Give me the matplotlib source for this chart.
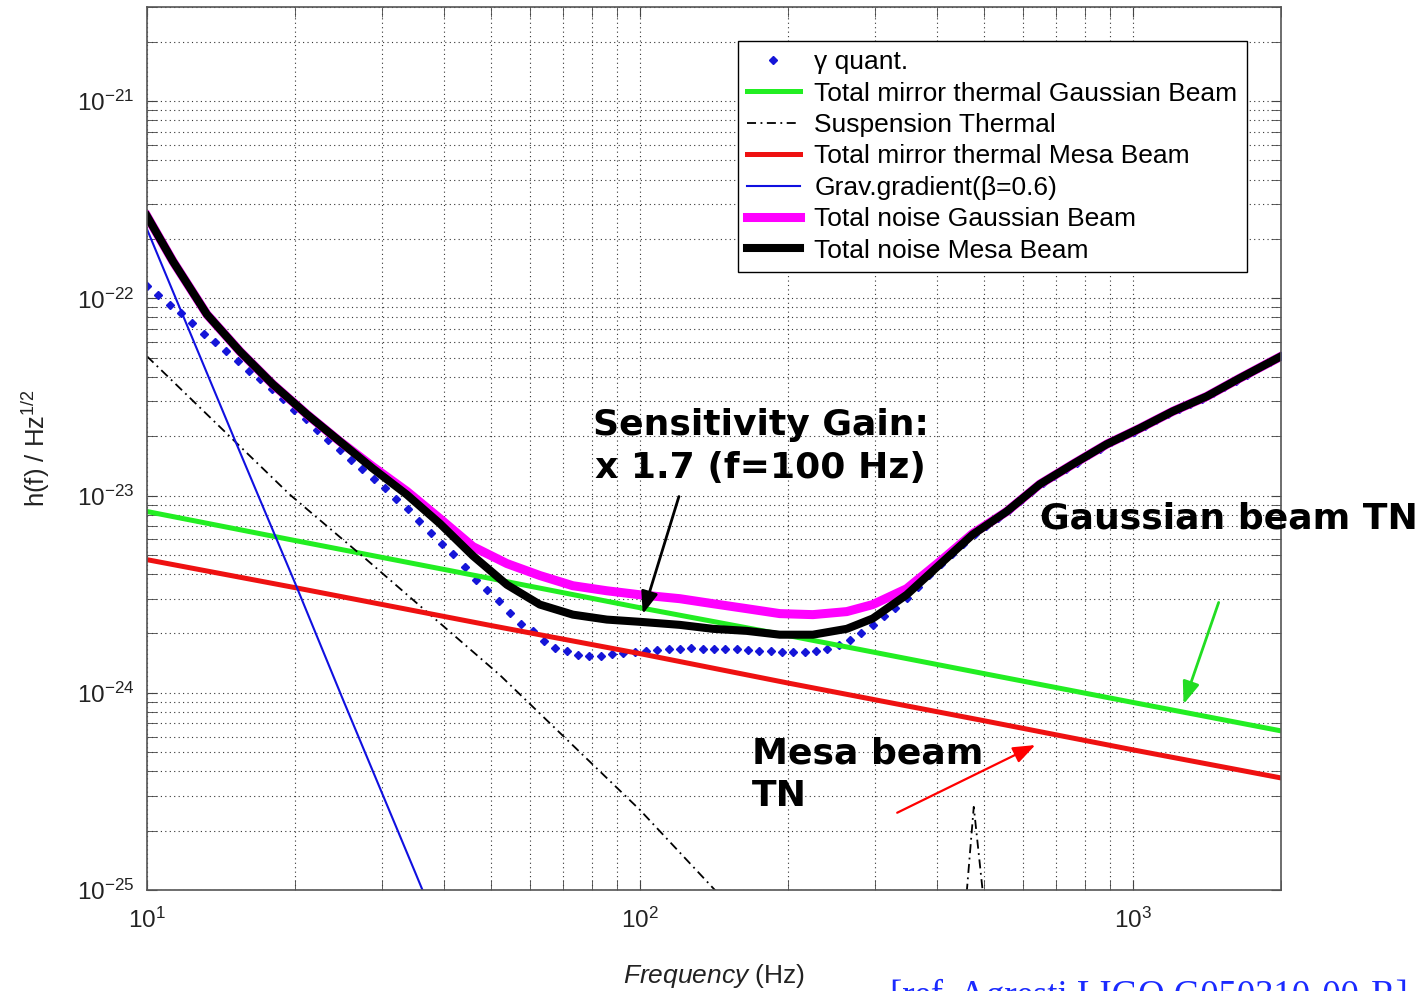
import numpy as np
import matplotlib
matplotlib.use('Agg')
import matplotlib.pyplot as plt
from matplotlib.ticker import NullFormatter

plt.rcParams['font.family'] = ['Liberation Sans', 'DejaVu Sans']
plt.rcParams['mathtext.fontset'] = 'custom'
plt.rcParams['mathtext.rm'] = 'Liberation Sans'
plt.rcParams['mathtext.it'] = 'Liberation Sans:italic'
plt.rcParams['mathtext.bf'] = 'Liberation Sans:bold'
plt.rcParams['axes.unicode_minus'] = False

# ---- data ----
# quantum noise, sampled on the 101-point log grid 10..2000 Hz, units 1e-24
freq_dots = np.geomspace(10, 2000, 101)
quant = np.array([
    116, 104, 93, 84, 75, 66, 60, 54, 48, 43,
    39, 34.5, 30.7, 27.3, 24.3, 21.6, 19.2, 17.1, 15.2, 13.7,
    12.2, 10.9, 9.66, 8.5, 7.46, 6.49, 5.7, 5.08, 4.36, 3.75,
    3.33, 2.93, 2.55, 2.24, 2.06, 1.84, 1.69, 1.63, 1.56, 1.54,
    1.54, 1.58, 1.60, 1.61, 1.63, 1.65, 1.67, 1.67, 1.69, 1.67,
    1.67, 1.67, 1.67, 1.65, 1.63, 1.63, 1.61, 1.61, 1.61, 1.63,
    1.67, 1.75, 1.86, 2.02, 2.21, 2.46, 2.70, 3.04, 3.45, 3.97,
    4.52, 5.08, 5.70, 6.41, 7.04, 7.73, 8.44, 9.43, 10.5, 11.6,
    12.6, 13.6, 14.7, 16.0, 17.2, 18.6, 19.8, 21.1, 22.5, 24.1,
    25.8, 27.5, 29.2, 30.9, 33.1, 35.5, 38.2, 41.0, 44.1, 47.5,
    50.8]) * 1e-24

# mirror thermal noise
freq_tn = [10, 20, 50, 100, 200, 500, 1000, 2000]
tn_gauss = np.array([8.30, 5.91, 3.79, 2.70, 1.95, 1.25, 0.894, 0.641]) * 1e-24
tn_mesa = np.array([4.73, 3.41, 2.19, 1.58, 1.12, 0.721, 0.514, 0.370]) * 1e-24

# suspension thermal (with violin resonance)
freq_susp = [10, 19.5, 27.9, 52, 100, 142, 200, 300, 455, 461, 476, 496, 510, 700, 1000, 2000]
susp = np.array([50.8, 10.1, 4.73, 1.23, 0.255, 0.100, 0.043, 0.016, 0.03, 0.10,
                 0.264, 0.10, 0.03, 0.005, 0.002, 0.0004]) * 1e-24

# gravity gradient
freq_gg = [10, 15, 20, 25, 30, 35, 40]
grav = np.array([224, 19.7, 3.57, 0.92, 0.309, 0.123, 0.055]) * 1e-24

# total noise
freq_tot = [10, 11.29, 13.23, 15.44, 18.01, 21.11, 24.63, 28.73, 33.68, 39.29,
            45.84, 53.74, 62.69, 73.12, 85.73, 100, 120.5, 140.6, 164.8, 192.3,
            224.4, 263.0, 296.9, 347.9, 406.0, 473.6, 555.2, 647.7, 755.6, 885.6,
            1033, 1205, 1413, 1648, 2000]
tot_gauss = np.array([261, 154, 82.9, 53.8, 36.6, 25.8, 18.8, 14.0, 10.5, 7.64,
                      5.51, 4.52, 3.93, 3.49, 3.29, 3.14, 3.00, 2.83, 2.67, 2.52,
                      2.49, 2.58, 2.80, 3.37, 4.62, 6.41, 8.30, 11.4, 14.4, 18.2,
                      21.9, 26.7, 31.8, 39.3, 50.8]) * 1e-24
tot_mesa = np.array([261, 154, 82.9, 53.8, 36.6, 25.8, 18.8, 13.7, 10.1, 7.21,
                     4.95, 3.53, 2.80, 2.49, 2.35, 2.29, 2.21, 2.11, 2.06, 1.97,
                     1.97, 2.11, 2.38, 3.14, 4.47, 6.34, 8.30, 11.4, 14.4, 18.2,
                     21.9, 26.7, 31.8, 39.3, 50.8]) * 1e-24

labels = ['\u03b3 quant.', 'Total mirror thermal Gaussian Beam', 'Suspension Thermal',
          'Total mirror thermal Mesa Beam', 'Grav.gradient(\u03b2=0.6)',
          'Total noise Gaussian Beam', 'Total noise Mesa Beam']

# ---- figure ----
fig = plt.figure(figsize=(14.26, 9.91), dpi=100)
ax = fig.add_axes([147 / 1426, 1 - 890 / 991, 1134 / 1426, 883 / 991])

ax.plot(freq_dots, quant, linestyle='none', marker='D', markersize=3.8,
        color='#1515d8', label=labels[0])
ax.plot(freq_tn, tn_gauss, color='#22ee22', lw=3.6, label=labels[1])
ax.plot(freq_susp, susp, color='k', lw=1.3, linestyle=(0, (5, 2.5, 1, 2.5)),
        label=labels[2])
ax.plot(freq_tn, tn_mesa, color='#ee1111', lw=3.6, label=labels[3])
ax.plot(freq_gg, grav, color='#1010e0', lw=1.5, label=labels[4])
ax.plot(freq_tot, tot_gauss, color='#ff00ff', lw=6.5, label=labels[5],
        solid_joinstyle='round')
ax.plot(freq_tot, tot_mesa, color='k', lw=5.8, label=labels[6],
        solid_joinstyle='round')

ax.set_xscale('log')
ax.set_yscale('log')
ax.set_xlim(10, 2000)
ax.set_ylim(1e-25, 3e-21)
ax.set_xticks([10, 100, 1000])
ax.set_yticks([1e-25, 1e-24, 1e-23, 1e-22, 1e-21])

ax.grid(True, which='both', color='#333333', linestyle=(0, (1, 3)), linewidth=0.8)
ax.tick_params(which='both', direction='in', top=True, right=True, length=7,
               color='#444444', labelcolor='#222222', labelsize=17.5)
ax.tick_params(axis='x', pad=13)
ax.tick_params(axis='y', pad=9)
ax.xaxis.set_minor_formatter(NullFormatter())
ax.yaxis.set_minor_formatter(NullFormatter())
for s in ax.spines.values():
    s.set_color('#555555')
    s.set_linewidth(1.2)

ax.set_xlabel(r'$\it{Frequency}$ (Hz)', fontsize=19, labelpad=21, color='#222222')
ax.set_ylabel(r'h(f) / Hz$^{1/2}$', fontsize=18.5, labelpad=18, color='#222222')

leg = ax.legend(loc='upper left', bbox_to_anchor=(0.521, 0.9615), borderaxespad=0,
                fontsize=19, handlelength=2.0, handletextpad=0.55, labelspacing=0.28,
                borderpad=0.35, fancybox=False, edgecolor='k', framealpha=1, numpoints=1)
leg.get_frame().set_linewidth(1.0)

# annotations
ann_font = dict(family='DejaVu Sans', fontweight='bold', fontsize=26, color='k')
ax.text(176, 1.77e-23, 'Sensitivity Gain:\nx 1.7 (f=100 Hz)', ha='center', va='center',
        multialignment='center', linespacing=1.35, **ann_font)
ax.text(648, 7.64e-24, 'Gaussian beam TN', ha='left', va='center', **ann_font)
ax.text(168.7, 3.84e-25, 'Mesa beam\nTN', ha='left', va='center',
        multialignment='left', linespacing=1.35, **ann_font)

ax.annotate('', xy=(101, 2.43e-24), xytext=(120.5, 1.02e-23),
            arrowprops=dict(arrowstyle='-|>,head_length=0.45,head_width=0.17',
                            color='k', lw=2, mutation_scale=30))
ax.annotate('', xy=(1263, 8.49e-25), xytext=(1501, 2.96e-24),
            arrowprops=dict(arrowstyle='-|>,head_length=0.45,head_width=0.17',
                            color='#22dd22', lw=2, mutation_scale=30))
ax.annotate('', xy=(642, 5.51e-25), xytext=(329, 2.43e-25),
            arrowprops=dict(arrowstyle='-|>,head_length=0.45,head_width=0.17',
                            color='#ff0000', lw=1.6, mutation_scale=30))

fig.text(890 / 1426, 1 - 1006 / 991, '[ref. Agresti LIGO G050310-00-R]',
         family='Liberation Serif', fontsize=26.5, color='#1a2aff', va='baseline')

fig.savefig('out.png', dpi=100)
